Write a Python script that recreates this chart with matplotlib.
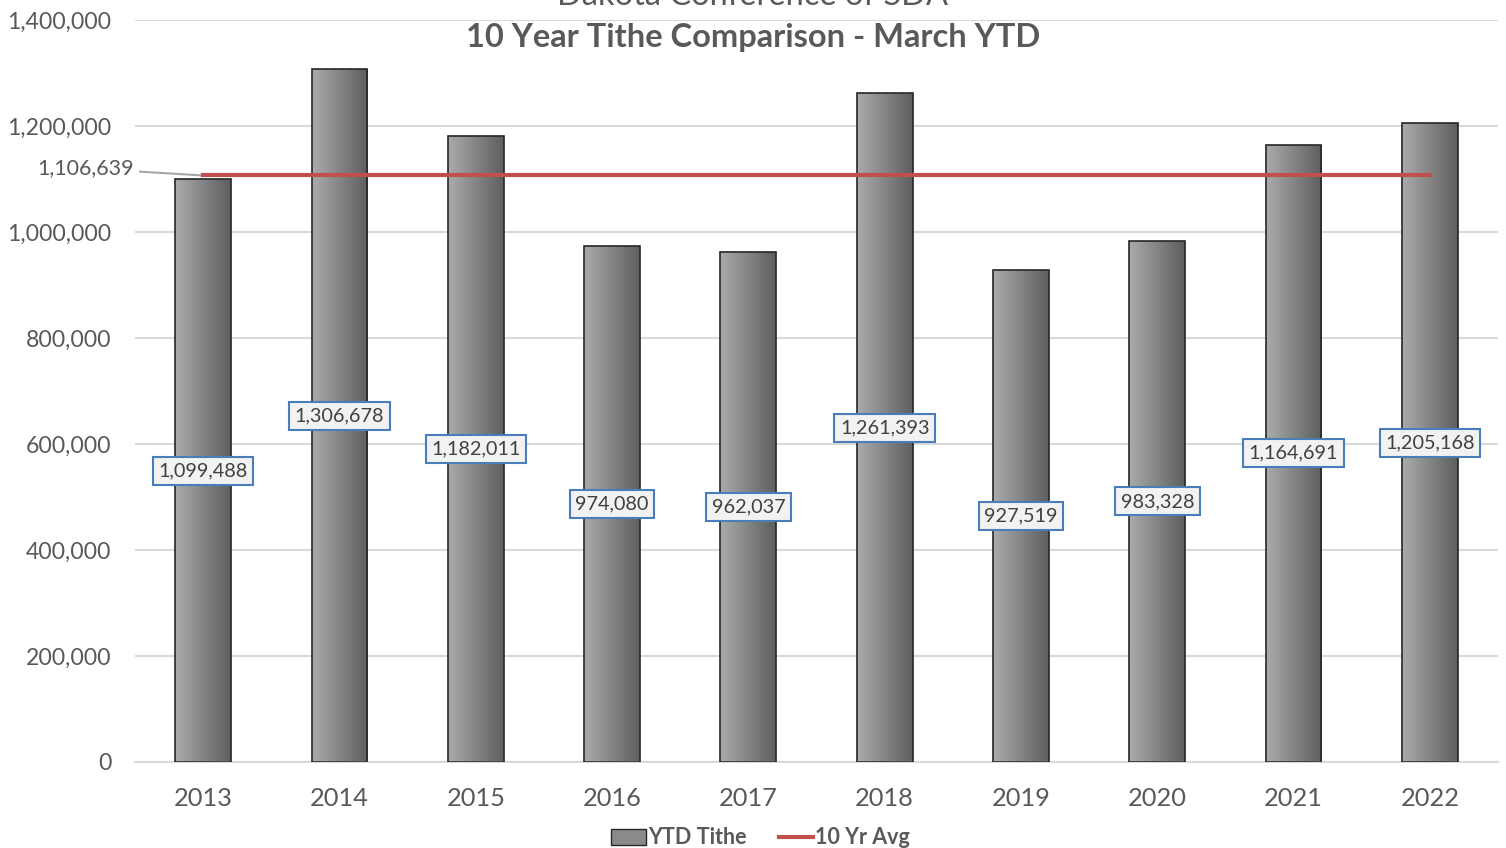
import matplotlib
import matplotlib.pyplot as plt
import matplotlib.ticker as mticker
from matplotlib.patches import Rectangle
from matplotlib.lines import Line2D
import numpy as np

matplotlib.use('Agg')

# data
years = ["2013", "2014", "2015", "2016", "2017", "2018", "2019", "2020", "2021", "2022"]
ytd_tithe = [1099488, 1306678, 1182011, 974080, 962037, 1261393, 927519, 983328, 1164691, 1205168]
avg_10yr = 1106639

plt.rcParams['font.family'] = ['Lato', 'DejaVu Sans']
txt = '#595959'

fig = plt.figure(figsize=(15.06, 8.48), dpi=100)
ax = fig.add_axes([135 / 1506, 86 / 848, 1363 / 1506, 742 / 848])

x = np.arange(len(years))
width = 0.41
grad = np.linspace(0, 1, 256).reshape(1, -1)
cmap = matplotlib.colors.LinearSegmentedColormap.from_list('g', ['#ababab', '#5e5e5e'])

for xi, v in zip(x, ytd_tithe):
    rect = Rectangle((xi - width / 2, 0), width, v, facecolor='none',
                     edgecolor='#262626', linewidth=1.2, zorder=3)
    ax.add_patch(rect)
    im = ax.imshow(grad, cmap=cmap, aspect='auto', zorder=2,
                   extent=[xi - width / 2, xi + width / 2, 0, v])
    im.set_clip_path(rect)
    ax.text(xi, v / 2, f"{v:,}", ha='center', va='center', fontsize=14.3,
            color='#404040', zorder=5,
            bbox=dict(boxstyle='square,pad=0.28', facecolor='#f2f2f2',
                      edgecolor='#4a7ebb', linewidth=1.5))

# 10 year average line
ax.plot([x[0], x[-1]], [avg_10yr, avg_10yr], color='#c0504d', linewidth=3, zorder=4)
ax.annotate(f"{avg_10yr:,}", xy=(x[0], avg_10yr), xytext=(-0.505, 1120000),
            ha='right', va='center', fontsize=15.5, color=txt,
            arrowprops=dict(arrowstyle='-', color='#a6a6a6', linewidth=1.5,
                            shrinkA=2, shrinkB=0))

ax.set_xlim(-0.5, len(years) - 0.5)
ax.set_ylim(0, 1400000)
ax.set_xticks(x)
ax.set_xticklabels(years, fontsize=18.3, color=txt)
ax.yaxis.set_major_locator(mticker.MultipleLocator(200000))
ax.yaxis.set_major_formatter(mticker.FuncFormatter(lambda v, p: f"{int(v):,}"))
ax.tick_params(axis='y', labelsize=16.6, labelcolor=txt, length=0, pad=17)
ax.tick_params(axis='x', length=0, pad=18)
ax.grid(axis='y', color='#d9d9d9', linewidth=1.5, zorder=0)
ax.set_axisbelow(True)
for s in ['top', 'right', 'left']:
    ax.spines[s].set_visible(False)
ax.spines['bottom'].set_color('#d9d9d9')
ax.spines['bottom'].set_linewidth(1.5)

fig.text(0.5, 1.0 + 4 / 848, "Dakota Conference of SDA", ha='center', va='center',
         fontsize=23.5, color=txt)
fig.text(0.5, 1 - 37 / 848, "10 Year Tithe Comparison - March YTD", ha='center',
         va='center', fontsize=23.5, fontweight='bold', color=txt)

handles = [Rectangle((0, 0), 1, 1, facecolor='#8a8a8a', edgecolor='#262626'),
           Line2D([0], [0], color='#c0504d', linewidth=3)]
leg = fig.legend(handles, ["YTD Tithe", "10 Yr Avg"], loc='center',
                 bbox_to_anchor=(0.505, 10 / 848), ncol=2, frameon=False,
                 prop={'size': 15.5, 'weight': 'bold'}, handlelength=1.6,
                 handletextpad=0.1, columnspacing=1.5)
for t in leg.get_texts():
    t.set_color(txt)

fig.savefig("out.png", dpi=100)
